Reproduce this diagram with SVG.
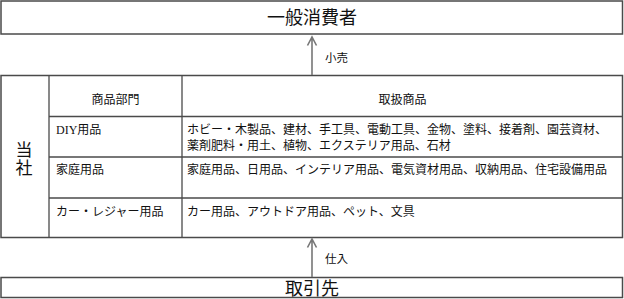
<svg xmlns="http://www.w3.org/2000/svg" width="624" height="299" viewBox="0 0 624 299">
<style>
.box{fill:#fff;stroke:#4a4a4a;stroke-width:1.5}
.ln{stroke:#4a4a4a;stroke-width:1.3;fill:none}
.t{font-family:"Liberation Serif","Noto Sans CJK JP",serif;fill:#111}
.big{font-size:18px}
.sm{font-size:12px}
.lab{font-size:11.5px}
.arr{stroke:#777;stroke-width:1.6;fill:none}
</style>
<rect width="624" height="299" fill="#fff"/>
<g id="consumer">
<rect class="box" x="1" y="1" width="621.5" height="33"/>
<text class="t big" x="312" y="24" text-anchor="middle">一般消費者</text>
</g>
<g id="company">
<rect class="box" x="1" y="75.5" width="621.5" height="162"/>
<line class="ln" x1="49" y1="75.5" x2="49" y2="237.5"/>
<line class="ln" x1="182" y1="75.5" x2="182" y2="237.5"/>
<line class="ln" x1="49" y1="116.5" x2="622.5" y2="116.5"/>
<line class="ln" x1="49" y1="157" x2="622.5" y2="157"/>
<line class="ln" x1="49" y1="198" x2="622.5" y2="198"/>
<text class="t" font-size="17" x="24" y="156" text-anchor="middle">当</text>
<text class="t" font-size="17" x="24" y="174" text-anchor="middle">社</text>
<text class="t sm" x="115.5" y="104" text-anchor="middle">商品部門</text>
<text class="t sm" x="402.5" y="104" text-anchor="middle">取扱商品</text>
<text class="t sm" x="56" y="134">DIY用品</text>
<text class="t sm" x="187" y="134">ホビー・木製品、建材、手工具、電動工具、金物、塗料、接着剤、園芸資材、</text>
<text class="t sm" x="187" y="150">薬剤肥料・用土、植物、エクステリア用品、石材</text>
<text class="t sm" x="56" y="174">家庭用品</text>
<text class="t sm" x="187" y="174">家庭用品、日用品、インテリア用品、電気資材用品、収納用品、住宅設備用品</text>
<text class="t sm" x="56" y="216">カー・レジャー用品</text>
<text class="t sm" x="187" y="216">カー用品、アウトドア用品、ペット、文具</text>
</g>
<g id="supplier">
<rect class="box" x="1" y="277.5" width="621.5" height="20"/>
<text class="t big" x="312" y="295" text-anchor="middle">取引先</text>
</g>
<g id="connectors">
<path class="arr" d="M312 75 V37 M307.5 45.5 L312 37 L316.5 45.5"/>
<text class="t lab" x="325" y="62">小売</text>
<path class="arr" d="M312 277 V239 M307.5 247.5 L312 239 L316.5 247.5"/>
<text class="t lab" x="325" y="263">仕入</text>
</g>
</svg>
